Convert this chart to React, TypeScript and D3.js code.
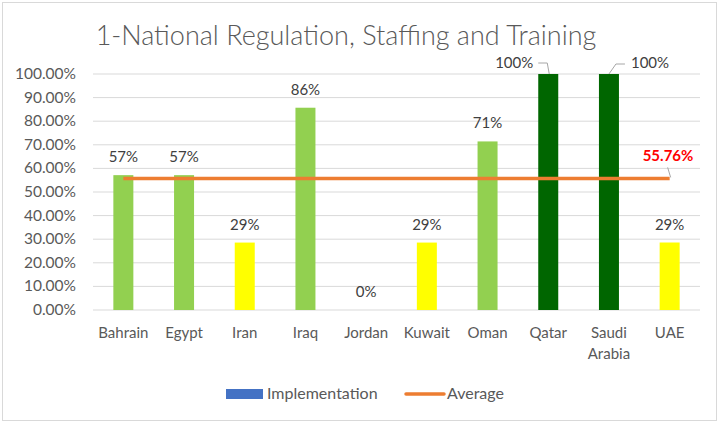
import { useEffect, useRef } from 'react';
import * as d3 from 'd3';

const countries = ['Bahrain', 'Egypt', 'Iran', 'Iraq', 'Jordan', 'Kuwait', 'Oman', 'Qatar', 'Saudi Arabia', 'UAE'];
const implementation = [57.14, 57.14, 28.57, 85.71, 0, 28.57, 71.43, 100, 100, 28.6];
const barColors = ['#92D050', '#92D050', '#FFFF00', '#92D050', '#92D050', '#FFFF00', '#92D050', '#006600', '#006600', '#FFFF00'];
const average = 55.76;
const yTicks = [0, 10, 20, 30, 40, 50, 60, 70, 80, 90, 100];

export default function App() {
  const svgRef = useRef<SVGSVGElement>(null);

  useEffect(() => {
    if (!svgRef.current) return;
    d3.select(svgRef.current).selectAll('*').remove();

    const width = 719;
    const height = 423;
    const margin = { top: 74, right: 19, bottom: 113, left: 93 };
    const font = 'Lato, "Open Sans", sans-serif';
    const textColor = '#595959';
    const fs = 15;

    const svg = d3.select(svgRef.current)
      .attr('width', width)
      .attr('height', height);

    // Chart border
    svg.append('rect')
      .attr('x', 2.5).attr('y', 2.5)
      .attr('width', 714).attr('height', 418)
      .attr('fill', 'white')
      .attr('stroke', '#d9d9d9');

    const x = d3.scaleBand()
      .domain(countries)
      .range([margin.left, width - margin.right]);

    const y = d3.scaleLinear()
      .domain([0, 100])
      .range([height - margin.bottom, margin.top]);

    // Title
    svg.append('text')
      .attr('x', 346)
      .attr('y', 45)
      .attr('text-anchor', 'middle')
      .attr('font-family', font)
      .attr('font-size', 27)
      .attr('font-weight', 300)
      .attr('fill', textColor)
      .text('1-National Regulation, Staffing and Training');

    // Grid lines
    svg.append('g')
      .selectAll('line')
      .data(yTicks)
      .enter()
      .append('line')
      .attr('x1', margin.left)
      .attr('x2', width - margin.right)
      .attr('y1', d => y(d))
      .attr('y2', d => y(d))
      .attr('stroke', '#d9d9d9')
      .attr('stroke-width', 1);

    // Y axis labels
    svg.append('g')
      .selectAll('text')
      .data(yTicks)
      .enter()
      .append('text')
      .attr('x', 76)
      .attr('y', d => y(d) + 5)
      .attr('text-anchor', 'end')
      .attr('font-family', font)
      .attr('font-size', 15.5)
      .attr('fill', textColor)
      .text(d => `${d.toFixed(2)}%`);

    // Bars
    const barW = 20;
    svg.append('g')
      .selectAll('rect')
      .data(countries)
      .enter()
      .append('rect')
      .attr('x', d => (x(d) || 0) + x.bandwidth() / 2 - barW / 2)
      .attr('y', (d, i) => y(implementation[i]))
      .attr('width', barW)
      .attr('height', (d, i) => y(0) - y(implementation[i]))
      .attr('fill', (d, i) => barColors[i]);

    // X axis labels
    const xl = svg.append('g')
      .selectAll('text')
      .data(countries)
      .enter()
      .append('text')
      .attr('x', d => (x(d) || 0) + x.bandwidth() / 2)
      .attr('y', 338)
      .attr('text-anchor', 'middle')
      .attr('font-family', font)
      .attr('font-size', fs)
      .attr('fill', textColor);
    xl.each(function (d) {
      const parts = d === 'Saudi Arabia' ? ['Saudi', 'Arabia'] : [d];
      parts.forEach((p, k) => {
        d3.select(this).append('tspan')
          .attr('x', (x(d) || 0) + x.bandwidth() / 2)
          .attr('dy', k === 0 ? 0 : 21)
          .text(p);
      });
    });

    // Average line
    const cx = (d: string) => (x(d) || 0) + x.bandwidth() / 2;
    const avgLine = d3.line<string>()
      .x(d => cx(d))
      .y(() => y(average));
    svg.append('path')
      .datum(countries)
      .attr('d', avgLine)
      .attr('fill', 'none')
      .attr('stroke', '#ED7D31')
      .attr('stroke-width', 3.5);

    // Bar labels
    svg.append('g')
      .selectAll('text')
      .data(countries.filter((d, i) => implementation[i] < 100))
      .enter()
      .append('text')
      .attr('x', d => cx(d))
      .attr('y', d => y(implementation[countries.indexOf(d)]) - 13)
      .attr('text-anchor', 'middle')
      .attr('font-family', font)
      .attr('font-size', fs)
      .attr('fill', '#404040')
      .text(d => `${Math.round(implementation[countries.indexOf(d)])}%`);

    // Labels for the 100% bars with leader lines
    const qx = cx('Qatar');
    const sx = cx('Saudi Arabia');
    const top = y(100);
    svg.append('path')
      .attr('d', `M${qx - 10},${top - 11} H${qx - 1} L${qx + 1},${top}`)
      .attr('fill', 'none')
      .attr('stroke', '#a6a6a6');
    svg.append('text')
      .attr('x', qx - 15)
      .attr('y', top - 6)
      .attr('text-anchor', 'end')
      .attr('font-family', font)
      .attr('font-size', fs)
      .attr('fill', '#404040')
      .text('100%');
    svg.append('path')
      .attr('d', `M${sx},${top} L${sx + 7},${top - 10} H${sx + 16}`)
      .attr('fill', 'none')
      .attr('stroke', '#a6a6a6');
    svg.append('text')
      .attr('x', sx + 22)
      .attr('y', top - 6)
      .attr('text-anchor', 'start')
      .attr('font-family', font)
      .attr('font-size', fs)
      .attr('fill', '#404040')
      .text('100%');

    // Average label
    const ux = cx('UAE');
    svg.append('path')
      .attr('d', `M${ux - 2},${y(average) - 11} L${ux + 1},${y(average) - 1}`)
      .attr('fill', 'none')
      .attr('stroke', '#a6a6a6');
    svg.append('text')
      .attr('x', 668)
      .attr('y', 161)
      .attr('text-anchor', 'middle')
      .attr('font-family', font)
      .attr('font-size', fs)
      .attr('font-weight', 'bold')
      .attr('fill', '#FF0000')
      .text(`${average.toFixed(2)}%`);

    // Legend
    const lg = svg.append('g');
    lg.append('rect')
      .attr('x', 226).attr('y', 389)
      .attr('width', 37).attr('height', 10)
      .attr('fill', '#4472C4');
    lg.append('text')
      .attr('x', 267).attr('y', 399)
      .attr('font-family', font)
      .attr('font-size', 16)
      .attr('fill', textColor)
      .text('Implementation');
    lg.append('line')
      .attr('x1', 406).attr('x2', 444)
      .attr('y1', 394).attr('y2', 394)
      .attr('stroke', '#ED7D31')
      .attr('stroke-width', 3.5)
      .attr('stroke-linecap', 'round');
    lg.append('text')
      .attr('x', 447).attr('y', 399)
      .attr('font-family', font)
      .attr('font-size', 16)
      .attr('fill', textColor)
      .text('Average');
  }, []);

  return (
    <svg ref={svgRef} style={{ position: 'absolute', top: 0, left: 0, display: 'block' }}></svg>
  );
}
